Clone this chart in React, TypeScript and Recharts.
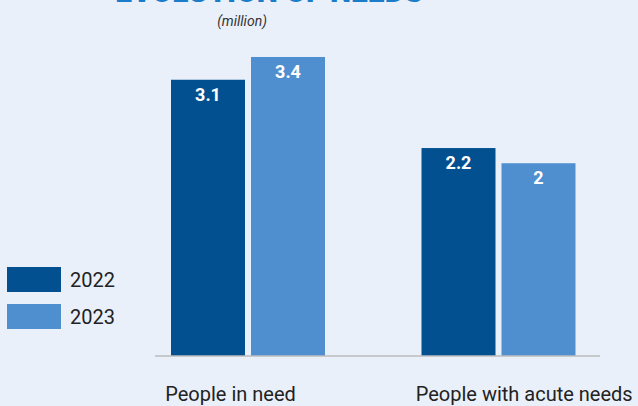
import React from 'react';
import { BarChart, Bar, XAxis, YAxis, LabelList } from 'recharts';

const categories = ['People in need', 'People with acute needs'];
const values2022 = [3.1, 2.2];
const values2023 = [3.4, 2];
const seriesNames = ['2022', '2023'];

const data = categories.map((c, i) => ({
  name: c,
  y2022: values2022[i],
  y2023: values2023[i],
}));

const DARK = '#02508f';
const LIGHT = '#4f8fcf';
const BG = '#eaf0fa';
const FONT = 'Roboto, "Noto Sans", sans-serif';
const seriesColors = [DARK, LIGHT];

const FullBar = (props: any) => {
  const { x, y, width, height, fill, background } = props;
  const bottom = background && background.height ? background.y + background.height : y + height;
  return <rect x={x} y={y} width={width} height={Math.max(0, bottom - y)} fill={fill} />;
};

const Tick = (props: any) => {
  const { x, y, payload } = props;
  return (
    <text x={x - 83} y={y + 45} textAnchor="start" fill="#222" fontSize={20} fontFamily={FONT}>
      {payload.value}
    </text>
  );
};

const LegendBox = () => (
  <div style={{ position: 'absolute', left: 7, top: 267, fontFamily: FONT }}>
    {seriesNames.map((n, i) => (
      <div key={n} style={{ display: 'flex', alignItems: 'center', height: 25, marginBottom: 12 }}>
        <div style={{ width: 54, height: 25, background: seriesColors[i] }} />
        <span style={{ marginLeft: 9, fontSize: 20, color: '#222' }}>{n}</span>
      </div>
    ))}
  </div>
);

export default function App() {
  return (
    <div style={{ position: 'fixed', left: 0, top: 0, width: 638, height: 406, background: BG, overflow: 'hidden' }}>
      <div style={{ position: 'absolute', left: 0, top: -23, width: 538, textAlign: 'center', fontFamily: FONT, fontWeight: 900, fontSize: 30, lineHeight: '30px', color: '#1b7dc9', whiteSpace: 'nowrap' }}>
        EVOLUTION OF NEEDS
      </div>
      <div style={{ position: 'absolute', left: 0, top: 12, width: 484, textAlign: 'center', fontFamily: FONT, fontStyle: 'italic', fontSize: 14, lineHeight: '18px', color: '#333' }}>
        (million)
      </div>
      <BarChart width={638} height={406} data={data} margin={{ top: 16, right: 38, bottom: 0, left: 155 }} barSize={74} barGap={6}>
        <XAxis
          dataKey="name"
          height={50}
          padding={{ left: -32, right: -24 }}
          tickLine={false}
          tickSize={0}
          tickMargin={0}
          axisLine={{ stroke: '#bdbdbd', strokeWidth: 1.5 }}
          tick={<Tick />}
          interval={0}
        />
        <YAxis hide domain={[-0.54, 3.94]} width={0} />
        <Bar dataKey="y2022" name={seriesNames[0]} fill={DARK} shape={<FullBar />} isAnimationActive={false}>
          <LabelList dataKey="y2022" position="insideTop" offset={8} fill="#fff" fontSize={18} fontWeight={700} fontFamily={FONT} />
        </Bar>
        <Bar dataKey="y2023" name={seriesNames[1]} fill={LIGHT} shape={<FullBar />} isAnimationActive={false}>
          <LabelList dataKey="y2023" position="insideTop" offset={8} fill="#fff" fontSize={18} fontWeight={700} fontFamily={FONT} />
        </Bar>
      </BarChart>
      <LegendBox />
    </div>
  );
}
